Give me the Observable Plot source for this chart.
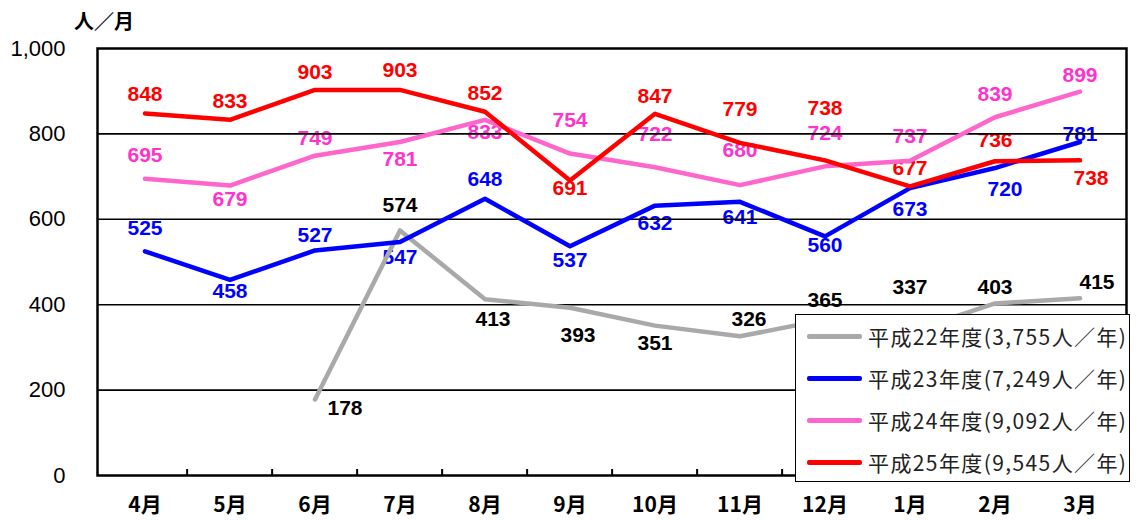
<!DOCTYPE html>
<html>
<head>
<meta charset="utf-8">
<script src="https://cdn.jsdelivr.net/npm/d3@7"></script>
<script src="https://cdn.jsdelivr.net/npm/@observablehq/plot@0.6"></script>
<style>
  html, body { margin: 0; padding: 0; background: #fff; }
  #wrap { position: relative; width: 1141px; height: 520px; overflow: hidden; }
  #ytitle { position: absolute; left: 74px; top: 7px; font: bold 20px "Noto Sans CJK JP", sans-serif; color: #000; line-height: 28px; }
  #legend { position: absolute; left: 795px; top: 314px; width: 335px; height: 168px; box-sizing: border-box;
            border: 1px solid #000; background: #fff; font: 21px "Noto Sans CJK JP", sans-serif; color: #222; letter-spacing: 1.4px; }
  .item { position: absolute; left: 11px; height: 28px; display: flex; align-items: center; white-space: nowrap; }
  .swatch { width: 55px; height: 5px; border-radius: 2px; margin-right: 6px; }
</style>
</head>
<body>
<div id="wrap">
  <div id="chart"></div>
  <div id="ytitle"></div>
  <div id="legend"></div>
</div>
<script>
const months = ["4月","5月","6月","7月","8月","9月","10月","11月","12月","1月","2月","3月"];
const h22 = [null, null, 178, 574, 413, 393, 351, 326, 365, 337, 403, 415];
const h23 = [525, 458, 527, 547, 648, 537, 632, 641, 560, 673, 720, 781];
const h24 = [695, 679, 749, 781, 833, 754, 722, 680, 724, 737, 839, 899];
const h25 = [848, 833, 903, 903, 852, 691, 847, 779, 738, 677, 736, 738];
const seriesNames = ["平成22年度(3,755人／年)", "平成23年度(7,249人／年)", "平成24年度(9,092人／年)", "平成25年度(9,545人／年)"];
const yTicks = [0, 200, 400, 600, 800, 1000];
const yTitle = "人／月";

// label placement (pixel offsets from each point)
const dy22 = [0, 0, 9, -25, 20, 28, 18, -17, -19, -44, -16, -16];
const dx22 = [0, 0, 30, 0, 8, 8, 0, 9, 0, 0, 0, 17];
const dy23 = [-23, 11, -15, 15, -20, 14, 18, 15, 9, 21, 21, -8];
const dx23 = [0, 0, 0, 0, 0, 0, 0, 0, 0, 0, 10, 0];
const dy24 = [-23, 14, -17, 17, 12, -33, -33, -35, -33, -25, -23, -16];
const dx24 = [0, 0, 0, 0, 0, 0, 0, 0, 0, 0, 0, 0];
const dy25 = [-19, -19, -18, -20, -18, 8, -18, -34, -52, -18, -21, 18];
const dx25 = [0, 0, 0, 0, 0, 0, 0, 0, 0, 0, 0, 11];

const series = [
  {name: seriesNames[0], values: h22, line: "#a9a9a9", text: "#000000", dy: dy22, dx: dx22},
  {name: seriesNames[1], values: h23, line: "#0000ff", text: "#0000ff", dy: dy23, dx: dx23},
  {name: seriesNames[2], values: h24, line: "#ff66cc", text: "#ff33cc", dy: dy24, dx: dx24},
  {name: seriesNames[3], values: h25, line: "#ff0000", text: "#ff0000", dy: dy25, dx: dx25}
];

const W = 1141, H = 520, ML = 97, MR = 15, MT = 48, MB = 45;
const band = (W - ML - MR) / months.length;

const labelMarks = [];
for (const s of series) {
  s.values.forEach((v, i) => {
    if (v == null) return;
    labelMarks.push(Plot.text([{m: months[i], v}], {
      x: "m", y: "v", text: d => String(d.v),
      dx: s.dx[i], dy: s.dy[i], fill: s.text,
      fontSize: 21, fontWeight: "bold", fontFamily: "Liberation Sans, Arial, sans-serif"
    }));
  });
}

const lineMarks = series.map(s => Plot.lineY(
  months.map((m, i) => ({m, v: s.values[i]})),
  {x: "m", y: "v", stroke: s.line, strokeWidth: 4.5, strokeLinejoin: "round", strokeLinecap: "round"}
));

const chart = Plot.plot({
  width: W, height: H,
  marginLeft: ML, marginRight: MR, marginTop: MT, marginBottom: MB,
  style: {background: "#fff", color: "#000", overflow: "visible"},
  x: {type: "band", domain: months, padding: 0, axis: null, label: null},
  y: {domain: [0, 1000], axis: null, label: null},
  marks: [
    ...labelMarks,
    Plot.ruleY(yTicks.filter(t => t > 0 && t < 1000), {stroke: "#000", strokeWidth: 1.6}),
    Plot.ruleX(months.slice(1), {x: d => d, dx: -band / 2, insetTop: H - MT - MB - 6, stroke: "#000", strokeWidth: 2}),
    ...lineMarks,
    Plot.frame({stroke: "#000", strokeWidth: 2.5}),
    Plot.axisY({ticks: yTicks, tickSize: 0, tickPadding: 32, tickFormat: d3.format(","), label: null,
                fontSize: 22, fontFamily: "Liberation Sans, Arial, sans-serif"}),
    Plot.axisX({tickSize: 0, tickPadding: 22, fontSize: 21, fontWeight: "bold", label: null,
                fontFamily: "Noto Sans CJK JP, sans-serif"})
  ]
});
document.getElementById("chart").appendChild(chart);
document.getElementById("ytitle").textContent = yTitle;

const legend = document.getElementById("legend");
series.forEach((s, i) => {
  const item = document.createElement("div");
  item.className = "item";
  item.style.top = (7 + i * 42) + "px";
  const sw = document.createElement("div");
  sw.className = "swatch";
  sw.style.background = s.line;
  const tx = document.createElement("span");
  tx.textContent = s.name;
  item.appendChild(sw);
  item.appendChild(tx);
  legend.appendChild(item);
});
</script>
</body>
</html>
